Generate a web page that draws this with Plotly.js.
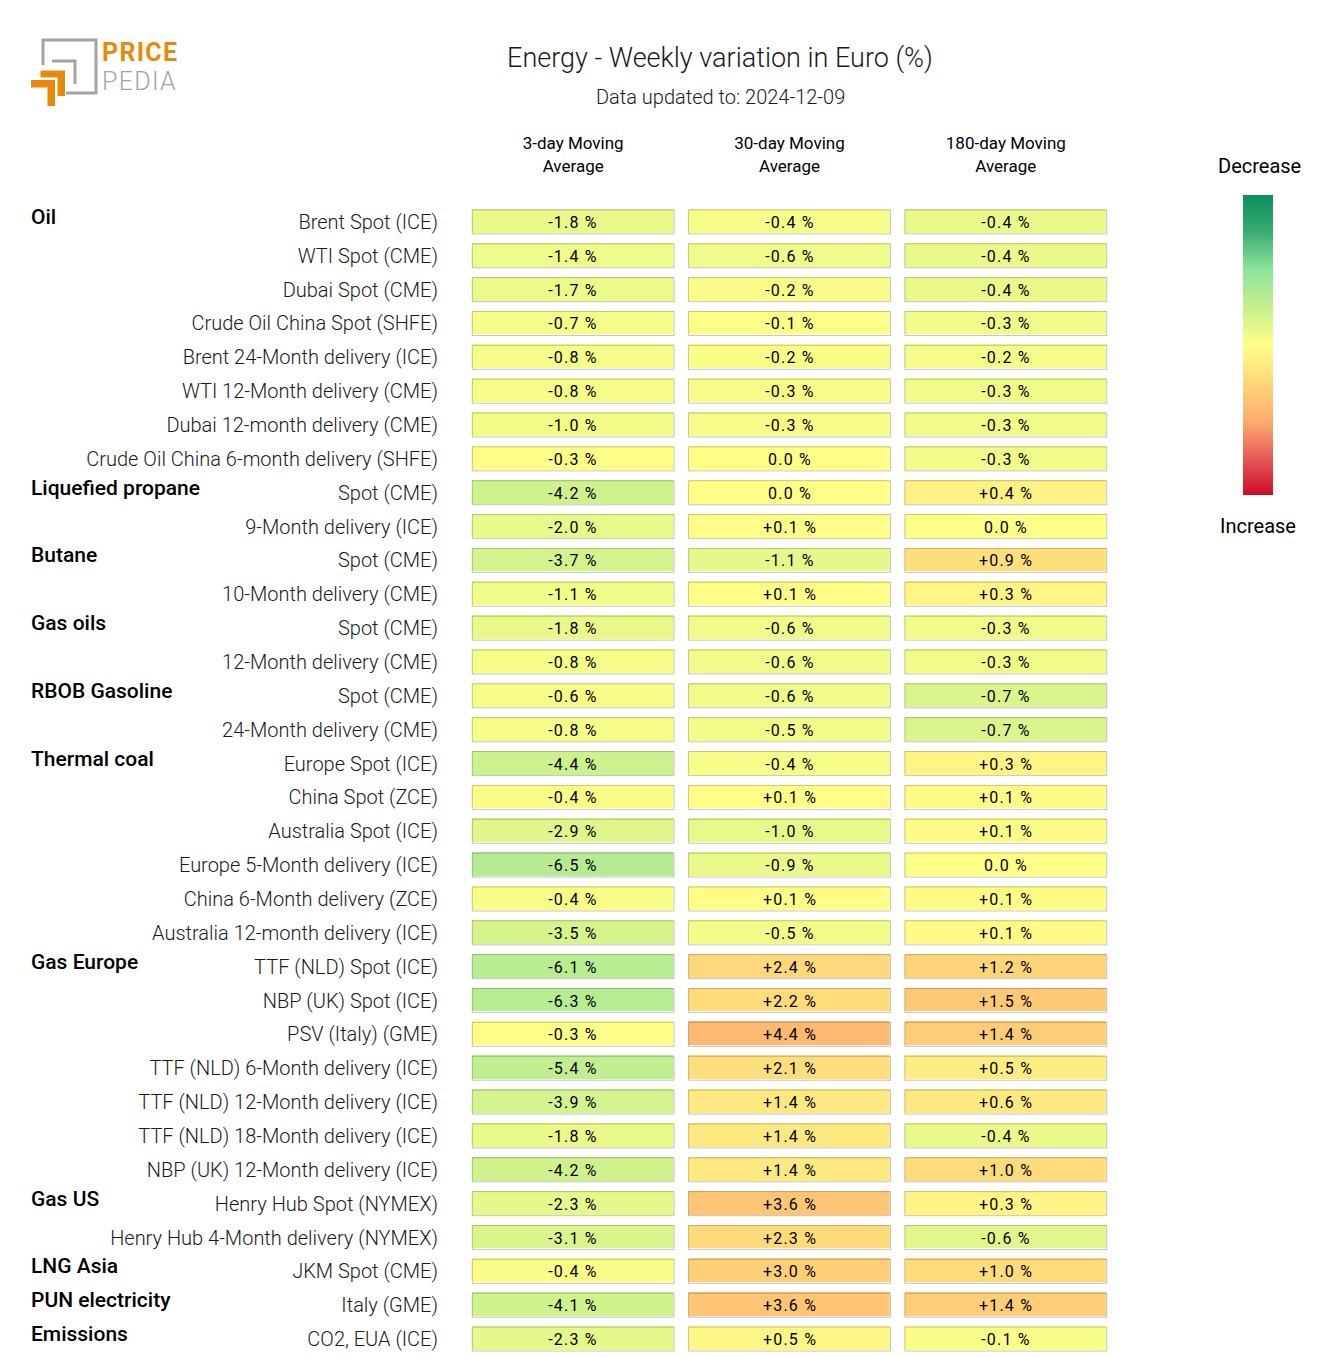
<!DOCTYPE html>
<html>
<head>
<meta charset="utf-8">
<script src="https://cdn.plot.ly/plotly-3.0.1.min.js"></script>
<style>
html,body{margin:0;padding:0;background:#fff;}
#chart{width:1320px;height:1357px;}
.heatmap-label text{letter-spacing:1.2px;}
</style>
</head>
<body>
<div id="chart"></div>
<script>
// ---------- data ----------
const columnHeaders = ["3-day Moving<br>Average", "30-day Moving<br>Average", "180-day Moving<br>Average"];

const rowLabels = [
  "Brent Spot (ICE)", "WTI Spot (CME)", "Dubai Spot (CME)", "Crude Oil China Spot (SHFE)",
  "Brent 24-Month delivery (ICE)", "WTI 12-Month delivery (CME)", "Dubai 12-month delivery (CME)",
  "Crude Oil China 6-month delivery (SHFE)",
  "Spot (CME)", "9-Month delivery (ICE)",
  "Spot (CME)", "10-Month delivery (CME)",
  "Spot (CME)", "12-Month delivery (CME)",
  "Spot (CME)", "24-Month delivery (CME)",
  "Europe Spot (ICE)", "China Spot (ZCE)", "Australia Spot (ICE)", "Europe 5-Month delivery (ICE)",
  "China 6-Month delivery (ZCE)", "Australia 12-month delivery (ICE)",
  "TTF (NLD) Spot (ICE)", "NBP (UK) Spot (ICE)", "PSV (Italy) (GME)", "TTF (NLD) 6-Month delivery (ICE)",
  "TTF (NLD) 12-Month delivery (ICE)", "TTF (NLD) 18-Month delivery (ICE)", "NBP (UK) 12-Month delivery (ICE)",
  "Henry Hub Spot (NYMEX)", "Henry Hub 4-Month delivery (NYMEX)",
  "JKM Spot (CME)",
  "Italy (GME)",
  "CO2, EUA (ICE)"
];

// group name -> index of its first row
const groupNames = ["Oil", "Liquefied propane", "Butane", "Gas oils", "RBOB Gasoline", "Thermal coal",
  "Gas Europe", "Gas US", "LNG Asia", "PUN electricity", "Emissions"];
const groupStartRows = [0, 8, 10, 12, 14, 16, 22, 29, 31, 32, 33];

const ma3 = [-1.8, -1.4, -1.7, -0.7, -0.8, -0.8, -1.0, -0.3, -4.2, -2.0, -3.7, -1.1, -1.8, -0.8, -0.6, -0.8,
  -4.4, -0.4, -2.9, -6.5, -0.4, -3.5, -6.1, -6.3, -0.3, -5.4, -3.9, -1.8, -4.2, -2.3, -3.1, -0.4, -4.1, -2.3];
const ma30 = [-0.4, -0.6, -0.2, -0.1, -0.2, -0.3, -0.3, 0.0, 0.0, 0.1, -1.1, 0.1, -0.6, -0.6, -0.6, -0.5,
  -0.4, 0.1, -1.0, -0.9, 0.1, -0.5, 2.4, 2.2, 4.4, 2.1, 1.4, 1.4, 1.4, 3.6, 2.3, 3.0, 3.6, 0.5];
const ma180 = [-0.4, -0.4, -0.4, -0.3, -0.2, -0.3, -0.3, -0.3, 0.4, 0.0, 0.9, 0.3, -0.3, -0.3, -0.7, -0.7,
  0.3, 0.1, 0.1, 0.0, 0.1, 0.1, 1.2, 1.5, 1.4, 0.5, 0.6, -0.4, 1.0, 0.3, -0.6, 1.0, 1.4, -0.1];

const seriesList = [ma3, ma30, ma180];
// colour range (± %) used for each column
const colourRanges = [20, 10, 4.5];

// ---------- layout geometry ----------
const W = 1320, H = 1357;
const ML = 465, MR = 206, MT = 205, MB = 1;
const PW = W - ML - MR, PH = H - MT - MB;
const nRows = rowLabels.length, nCols = seriesList.length;
const colPitch = PW / nCols, rowPitch = PH / nRows;
const XGAP = 14.5, YGAP = 9.8;
const px2x = p => (p - ML) / PW;
const py2y = p => 1 - (p - MT) / PH;

const FONT = "Roboto, 'Open Sans', sans-serif";

const colourscale = [
  [0.00, '#cc0a28'], [0.13, '#e6605a'], [0.25, '#fdaf6e'], [0.38, '#fed87a'],
  [0.50, '#ffff88'], [0.62, '#c8f08e'], [0.75, '#8de49c'], [0.88, '#3aaa72'], [1.00, '#0a8f5d']
];

const fmt = v => (v > 0 ? '+' : '') + v.toFixed(1) + ' %';
const rowIdx = rowLabels.map((_, i) => i);

const traces = seriesList.map((vals, c) => ({
  type: 'heatmap',
  x: [c],
  y: rowIdx,
  z: vals.map(v => [-v]),
  text: vals.map(v => [fmt(v)]),
  texttemplate: '%{text}',
  textfont: {family: FONT, size: 16, color: '#000'},
  zmin: -colourRanges[c], zmax: colourRanges[c],
  colorscale: colourscale,
  xgap: XGAP, ygap: YGAP,
  hoverinfo: 'skip',
  showscale: c === 0,
  colorbar: {
    x: px2x(1243), xanchor: 'left', xpad: 0,
    y: py2y(195), yanchor: 'top', ypad: 0,
    len: 300, lenmode: 'pixels', thickness: 30,
    outlinewidth: 0, showticklabels: false, ticks: ''
  }
}));

// cell borders, built from the same grid
const shapes = [];
const gx = (XGAP / 2) / colPitch, gy = (YGAP / 2) / rowPitch;
seriesList.forEach((vals, c) => {
  vals.forEach((v, r) => {
    shapes.push({
      type: 'rect', xref: 'x', yref: 'y', layer: 'above',
      x0: c - 0.5 + gx, x1: c + 0.5 - gx, y0: r - 0.5 + gy, y1: r + 0.5 - gy,
      line: {color: 'rgba(0,0,0,0.22)', width: 1}, fillcolor: 'rgba(0,0,0,0)'
    });
  });
});

// logo shapes (pixel geometry -> paper)
const P = (x, y) => px2x(x).toFixed(5) + ',' + py2y(y).toFixed(5);
const ORANGE = '#e8890c', GREY = '#a3a3a3';
shapes.push({type: 'path', xref: 'paper', yref: 'paper',
  path: 'M' + P(43, 65) + ' L' + P(43, 40) + ' L' + P(96, 40) + ' L' + P(96, 93) + ' L' + P(66, 93),
  line: {color: GREY, width: 3}});
shapes.push({type: 'path', xref: 'paper', yref: 'paper',
  path: 'M' + P(52, 61) + ' L' + P(75, 61) + ' L' + P(75, 84),
  line: {color: GREY, width: 3}});
shapes.push({type: 'path', xref: 'paper', yref: 'paper',
  path: 'M' + P(40.5, 70.5) + ' L' + P(65, 70.5) + ' L' + P(65, 96) + ' L' + P(57.5, 96) + ' L' + P(57.5, 77.5) + ' L' + P(40.5, 77.5) + ' Z',
  fillcolor: ORANGE, line: {width: 0}});
shapes.push({type: 'path', xref: 'paper', yref: 'paper',
  path: 'M' + P(31, 80) + ' L' + P(55, 80) + ' L' + P(55, 106) + ' L' + P(47.5, 106) + ' L' + P(47.5, 87.5) + ' L' + P(31, 87.5) + ' Z',
  fillcolor: ORANGE, line: {width: 0}});

const annotations = [];
groupNames.forEach((g, k) => {
  annotations.push({
    text: g, xref: 'paper', yref: 'y', x: px2x(29), y: groupStartRows[k],
    xanchor: 'left', yanchor: 'middle', yshift: 5, showarrow: false,
    font: {family: FONT, size: 21, color: '#000', weight: 500}
  });
});
annotations.push({
  text: 'Data updated to: 2024-12-09', xref: 'paper', yref: 'paper',
  x: px2x(720), y: py2y(97), xanchor: 'center', yanchor: 'middle', showarrow: false,
  font: {family: FONT, size: 20, color: '#1a1a1a', weight: 300}
});
annotations.push({
  text: 'Decrease', xref: 'paper', yref: 'paper', x: px2x(1259), y: py2y(166),
  xanchor: 'center', yanchor: 'middle', showarrow: false,
  font: {family: FONT, size: 20, color: '#000'}
});
annotations.push({
  text: 'Increase', xref: 'paper', yref: 'paper', x: px2x(1258), y: py2y(526),
  xanchor: 'center', yanchor: 'middle', showarrow: false,
  font: {family: FONT, size: 20, color: '#000'}
});
annotations.push({
  text: '<b><span style="letter-spacing:1.3px">PRICE</span></b>', xref: 'paper', yref: 'paper',
  x: px2x(100), y: py2y(52), xanchor: 'left', yanchor: 'middle', showarrow: false,
  font: {family: FONT, size: 25, color: ORANGE}
});
annotations.push({
  text: '<span style="letter-spacing:1.3px">PEDIA</span>', xref: 'paper', yref: 'paper',
  x: px2x(100), y: py2y(81.5), xanchor: 'left', yanchor: 'middle', showarrow: false,
  font: {family: FONT, size: 25, color: GREY, weight: 300}
});

const layout = {
  width: W, height: H,
  margin: {l: ML, r: MR, t: MT, b: MB, pad: 0},
  paper_bgcolor: '#fff', plot_bgcolor: '#fff',
  showlegend: false,
  title: {
    text: 'Energy - Weekly variation in Euro (%)',
    xref: 'container', yref: 'container', x: 720 / W, y: 1 - 58 / H,
    xanchor: 'center', yanchor: 'middle',
    font: {family: FONT, size: 27, color: '#1a1a1a', weight: 300}
  },
  xaxis: {
    side: 'top', range: [-0.5, 2.5], tickvals: [0, 1, 2], ticktext: columnHeaders,
    showgrid: false, zeroline: false, showline: false, ticks: '', fixedrange: true,
    ticklabelstandoff: 29,
    tickfont: {family: FONT, size: 17, color: '#000'}
  },
  yaxis: {
    range: [nRows - 0.5, -0.5], tickvals: rowIdx, ticktext: rowLabels,
    showgrid: false, zeroline: false, showline: false, ticks: '', fixedrange: true,
    ticklabelstandoff: 26,
    tickfont: {family: FONT, size: 20, color: '#1a1a1a', weight: 300}
  },
  shapes: shapes,
  annotations: annotations
};

Plotly.newPlot('chart', traces, layout, {displayModeBar: false, staticPlot: true});
</script>
</body>
</html>
